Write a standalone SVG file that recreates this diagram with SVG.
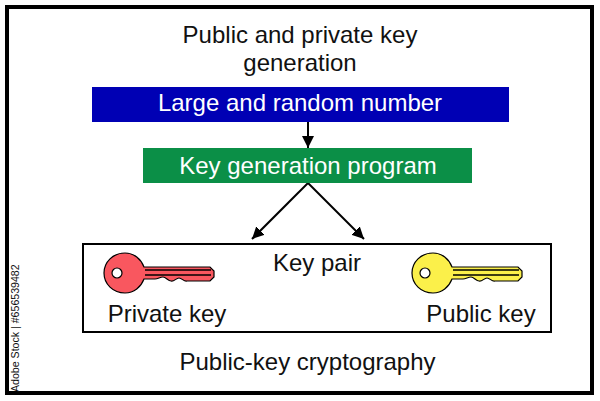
<svg xmlns="http://www.w3.org/2000/svg" width="600" height="401" viewBox="0 0 600 401">
<style>
text{font-family:"Liberation Sans",Arial,sans-serif;font-size:24px;fill:#111;text-anchor:middle}
.w{fill:#fff}
.c{stroke:#000;stroke-width:2;fill:none;marker-end:url(#a)}
.k{stroke:#000;stroke-width:1.2}
</style>
<defs>
<marker id="a" markerUnits="userSpaceOnUse" markerWidth="13" markerHeight="12" refX="12" refY="6" orient="auto"><path d="M0 0L12 6L0 12z" fill="#000"/></marker>
<path id="key" d="M0 -20C9 -20 16 -14 19 -6H85L89 -2V4L85 8H62C59 9 57 5 54 5C51 5 49 9 46 8C43 8 41 4 38 4C35 4 33 6 30 6L19 6C16 14 9 20 0 20C-12 20 -21 11 -21 0C-21 -11 -12 -20 0 -20Z"/>
<g id="ks"><path d="M20 -3H86M20 2H86" stroke="#000" stroke-width="1.500" fill="none"/><circle cx="-8" cy="0" r="5" fill="#fff" stroke="#000" stroke-width="1.200"/></g>
</defs>
<rect width="600" height="401" fill="#fff"/>
<rect x="7" y="7" width="585" height="386" fill="#fff" stroke="#000" stroke-width="4"/>
<g id="title"><text x="300" y="43">Public and private key</text><text x="300" y="71">generation</text></g>
<g id="connectors">
<path class="c" d="M308 122V148"/>
<path class="c" d="M308 183L252 239"/>
<path class="c" d="M308 183L364 239"/>
</g>
<g id="number"><rect x="92" y="87" width="417" height="35" fill="#0000b4"/><text class="w" x="300" y="111">Large and random number</text></g>
<g id="program"><rect x="143" y="148" width="329" height="35" fill="#0b8f47"/><text class="w" x="308" y="174">Key generation program</text></g>
<g id="keypair"><rect x="83" y="244" width="468" height="88" fill="#fff" stroke="#000" stroke-width="2"/><text x="317" y="271">Key pair</text></g>
<g id="private"><use href="#key" x="125" y="273" fill="#f9575f" class="k"/><use href="#ks" x="125" y="273"/><text x="167" y="322">Private key</text></g>
<g id="public"><use href="#key" x="433" y="273" fill="#fbf04a" class="k"/><use href="#ks" x="433" y="273"/><text x="481" y="322">Public key</text></g>
<g id="footer"><text x="307.500" y="370">Public-key cryptography</text></g>
<text transform="translate(19 392) rotate(-90)" style="font-size:10.600px;text-anchor:start">Adobe Stock | #656539482</text>
</svg>
